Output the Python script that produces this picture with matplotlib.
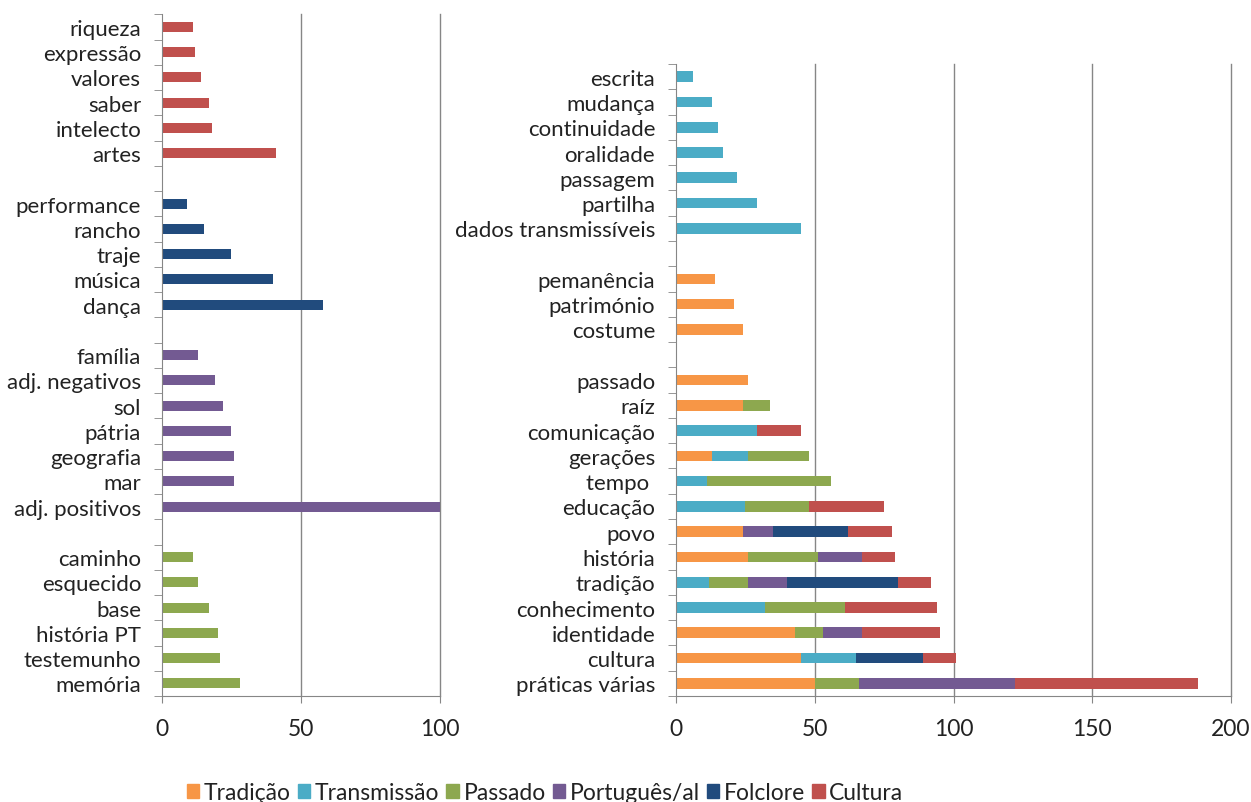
import matplotlib.pyplot as plt
from matplotlib.patches import Patch
import numpy as np

plt.rcParams['font.family'] = ['Lato', 'DejaVu Sans']

# cores das séries
cores = {
    'Tradição': '#F79646',
    'Transmissão': '#4BACC6',
    'Passado': '#8DA84F',
    'Português/al': '#735A92',
    'Folclore': '#214B7D',
    'Cultura': '#C0504D',
}

# gráfico da esquerda (de cima para baixo)
cult_pal = ['riqueza', 'expressão', 'valores', 'saber', 'intelecto', 'artes']
cult_val = [11, 12, 14, 17, 18, 41]
folc_pal = ['performance', 'rancho', 'traje', 'música', 'dança']
folc_val = [9, 15, 25, 40, 58]
port_pal = ['família', 'adj. negativos', 'sol', 'pátria', 'geografia', 'mar', 'adj. positivos']
port_val = [13, 19, 22, 25, 26, 26, 100]
pass_pal = ['caminho', 'esquecido', 'base', 'história PT', 'testemunho', 'memória']
pass_val = [11, 13, 17, 20, 21, 28]

# gráfico da direita
trans_pal = ['escrita', 'mudança', 'continuidade', 'oralidade', 'passagem', 'partilha',
             'dados transmissíveis']
trans_val = [6, 13, 15, 17, 22, 29, 45]
trad_pal = ['pemanência', 'património', 'costume']
trad_val = [14, 21, 24]
mist_pal = ['passado', 'raíz', 'comunicação', 'gerações', 'tempo ', 'educação', 'povo',
            'história', 'tradição', 'conhecimento', 'identidade', 'cultura', 'práticas várias']
mist_tradicao = [26, 24, 0, 13, 0, 0, 24, 26, 0, 0, 43, 45, 50]
mist_transmissao = [0, 0, 29, 13, 11, 25, 0, 0, 12, 32, 0, 20, 0]
mist_passado = [0, 10, 0, 22, 45, 23, 0, 25, 14, 29, 10, 0, 16]
mist_portugues = [0, 0, 0, 0, 0, 0, 11, 16, 14, 0, 14, 0, 56]
mist_folclore = [0, 0, 0, 0, 0, 0, 27, 0, 40, 0, 0, 24, 0]
mist_cultura = [0, 0, 16, 0, 0, 27, 16, 12, 12, 33, 28, 12, 66]

cinza = '#868686'


def estilo(ax, n, xmax, passo, etiquetas, posicoes):
    ax.set_ylim(n, 0)
    ax.set_xlim(0, xmax)
    ax.set_yticks(posicoes)
    ax.set_yticklabels(etiquetas, fontsize=16, color='#222222')
    ax.set_yticks(np.arange(0, n + 1), minor=True)
    ax.tick_params(axis='y', which='major', length=0, pad=15)
    ax.tick_params(axis='y', which='minor', length=6, color=cinza, direction='out')
    ax.set_xticks(np.arange(0, xmax + 1, passo))
    ax.tick_params(axis='x', length=5, color=cinza, labelsize=16.5, pad=11,
                   labelcolor='#222222')
    for s in ['top', 'right']:
        ax.spines[s].set_visible(False)
    for s in ['left', 'bottom']:
        ax.spines[s].set_color(cinza)
    for v in np.arange(passo, xmax + 1, passo):
        ax.axvline(v, color=cinza, lw=1, zorder=0, clip_on=False)


fig = plt.figure(figsize=(12.51, 8.03), dpi=100)

# esquerda
ax1 = fig.add_axes([0.1295, 0.132, 0.2222, 0.849])
grupos = [(cult_pal, cult_val, 'Cultura'), (folc_pal, folc_val, 'Folclore'),
          (port_pal, port_val, 'Português/al'), (pass_pal, pass_val, 'Passado')]
pos = 0
etiq1, pos1 = [], []
for palavras, valores, serie in grupos:
    y = pos + 0.5 + np.arange(len(palavras))
    ax1.barh(y, valores, height=0.4, color=cores[serie], zorder=2)
    etiq1 += palavras
    pos1 += list(y)
    pos += len(palavras) + 1
estilo(ax1, pos - 1, 100, 50, etiq1, pos1)

# direita
ax2 = fig.add_axes([0.5404, 0.132, 0.4436, 0.787])
etiq2, pos2 = [], []
y = 0.5 + np.arange(len(trans_pal))
ax2.barh(y, trans_val, height=0.42, color=cores['Transmissão'], zorder=2)
etiq2 += trans_pal
pos2 += list(y)
y = len(trans_pal) + 1.5 + np.arange(len(trad_pal))
ax2.barh(y, trad_val, height=0.42, color=cores['Tradição'], zorder=2)
etiq2 += trad_pal
pos2 += list(y)
y = len(trans_pal) + len(trad_pal) + 2.5 + np.arange(len(mist_pal))
series = [('Tradição', mist_tradicao), ('Transmissão', mist_transmissao),
          ('Passado', mist_passado), ('Português/al', mist_portugues),
          ('Folclore', mist_folclore), ('Cultura', mist_cultura)]
esq = np.zeros(len(mist_pal))
for nome, vals in series:
    ax2.barh(y, vals, left=esq, height=0.42, color=cores[nome], zorder=2)
    esq += np.array(vals)
etiq2 += mist_pal
pos2 += list(y)
estilo(ax2, len(trans_pal) + len(trad_pal) + len(mist_pal) + 2, 200, 50, etiq2, pos2)

# legenda
handles = [Patch(color=c, label=n) for n, c in cores.items()]
fig.legend(handles=handles, loc='center', bbox_to_anchor=(545 / 1251, 1 - 794 / 803),
           ncol=6, frameon=False, fontsize=16.5, handlelength=0.55, handleheight=0.55,
           handletextpad=0.2, columnspacing=0.3, labelcolor='#222222')

fig.savefig('out.png', dpi=100)
